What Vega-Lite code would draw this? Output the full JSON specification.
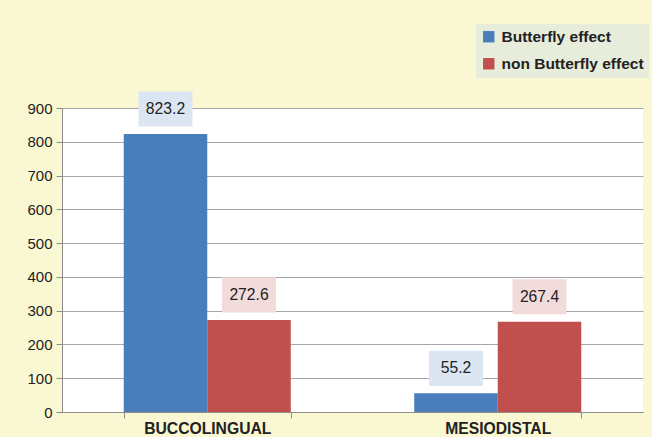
{
  "$schema": "https://vega.github.io/schema/vega-lite/v6.json",
  "autosize": {"type": "none"},
  "width": 581,
  "height": 304,
  "padding": {"left": 62, "top": 108, "right": 9, "bottom": 25},
  "background": "#FAF8D2",
  "config": {
    "view": {"fill": "#FFFFFF", "stroke": null},
    "font": "Liberation Sans"
  },
  "data": {
    "values": [
      {"category": "BUCCOLINGUAL", "series": "Butterfly effect", "value": 823.2},
      {"category": "BUCCOLINGUAL", "series": "non Butterfly effect", "value": 272.6},
      {"category": "MESIODISTAL", "series": "Butterfly effect", "value": 55.2},
      {"category": "MESIODISTAL", "series": "non Butterfly effect", "value": 267.4}
    ]
  },
  "encoding": {
    "x": {
      "field": "category", "type": "nominal", "sort": ["BUCCOLINGUAL", "MESIODISTAL"],
      "scale": {"paddingInner": 0.425, "paddingOuter": 0.2125},
      "axis": {
        "title": null, "labelAngle": 0, "labelFontSize": 15.7, "labelFontWeight": "bold",
        "labelColor": "#222222", "labelPadding": 3, "tickBand": "extent", "tickSize": 6,
        "tickColor": "#8C8C8C", "domainColor": "#8C8C8C", "grid": false
      }
    },
    "xOffset": {"field": "series", "type": "nominal", "sort": ["Butterfly effect", "non Butterfly effect"]},
    "y": {
      "field": "value", "type": "quantitative",
      "scale": {"domain": [0, 900], "nice": false},
      "axis": {
        "title": null, "values": [0, 100, 200, 300, 400, 500, 600, 700, 800, 900],
        "labelFontSize": 15, "labelColor": "#222222", "labelPadding": 4, "tickSize": 6,
        "tickColor": "#8C8C8C", "domainColor": "#8C8C8C", "gridColor": "#A6A6A6", "grid": true
      }
    }
  },
  "layer": [
    {
      "mark": {"type": "bar"},
      "encoding": {
        "color": {
          "field": "series", "type": "nominal",
          "scale": {"domain": ["Butterfly effect", "non Butterfly effect"], "range": ["#4A7EBB", "#C0504D"]},
          "legend": {
            "title": null, "orient": "none", "legendX": 414, "legendY": -84,
            "fillColor": "#E8EDDB", "padding": 5, "symbolType": "square", "symbolSize": 130,
            "symbolStrokeWidth": 0, "labelFontSize": 15.5, "labelFontWeight": "bold",
            "labelColor": "#222222", "labelOffset": 5, "rowPadding": 10
          }
        }
      }
    },
    {
      "mark": {"type": "point", "shape": "M-1,-0.65H1V0.65H-1Z", "size": 2916, "filled": true, "opacity": 1, "yOffset": -25},
      "encoding": {
        "fill": {
          "condition": {"test": "datum.series === 'Butterfly effect'", "value": "#DCE6F2"},
          "value": "#F2DCDB"
        }
      }
    },
    {
      "mark": {"type": "text", "fontSize": 15.7, "color": "#222222", "baseline": "middle", "yOffset": -25},
      "encoding": {"text": {"field": "value", "type": "quantitative", "format": ".1f"}}
    }
  ]
}
